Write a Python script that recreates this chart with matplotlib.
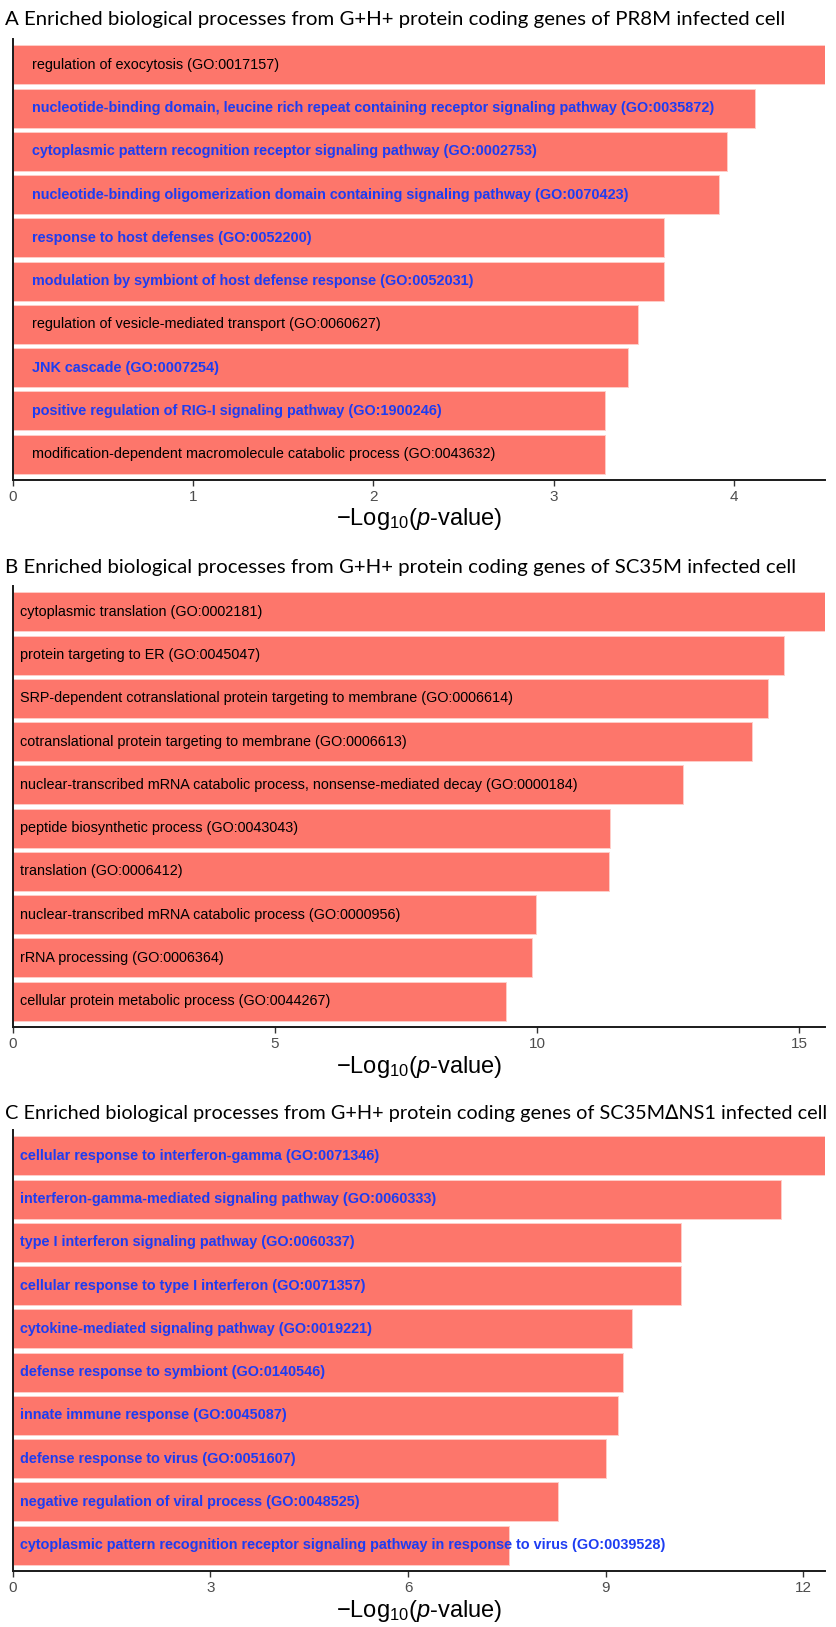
import matplotlib
matplotlib.use("Agg")
import matplotlib.pyplot as plt
from matplotlib import font_manager

# -----------------------------------------------------------------------------
# Data: GO terms (top to bottom) and their -log10(p-value)
# -----------------------------------------------------------------------------

TITLE_A = "A Enriched biological processes from G+H+ protein coding genes of PR8M infected cell"
TERMS_A = [
    "regulation of exocytosis (GO:0017157)",
    "nucleotide-binding domain, leucine rich repeat containing receptor signaling pathway (GO:0035872)",
    "cytoplasmic pattern recognition receptor signaling pathway (GO:0002753)",
    "nucleotide-binding oligomerization domain containing signaling pathway (GO:0070423)",
    "response to host defenses (GO:0052200)",
    "modulation by symbiont of host defense response (GO:0052031)",
    "regulation of vesicle-mediated transport (GO:0060627)",
    "JNK cascade (GO:0007254)",
    "positive regulation of RIG-I signaling pathway (GO:1900246)",
    "modification-dependent macromolecule catabolic process (GO:0043632)",
]
VALUES_A = [4.505, 4.118, 3.963, 3.915, 3.610, 3.610, 3.467, 3.415, 3.285, 3.285]
IMMUNE_A = [False, True, True, True, True, True, False, True, True, False]
TICKS_A = [0, 1, 2, 3, 4]

TITLE_B = "B Enriched biological processes from G+H+ protein coding genes of SC35M infected cell"
TERMS_B = [
    "cytoplasmic translation (GO:0002181)",
    "protein targeting to ER (GO:0045047)",
    "SRP-dependent cotranslational protein targeting to membrane (GO:0006614)",
    "cotranslational protein targeting to membrane (GO:0006613)",
    "nuclear-transcribed mRNA catabolic process, nonsense-mediated decay (GO:0000184)",
    "peptide biosynthetic process (GO:0043043)",
    "translation (GO:0006412)",
    "nuclear-transcribed mRNA catabolic process (GO:0000956)",
    "rRNA processing (GO:0006364)",
    "cellular protein metabolic process (GO:0044267)",
]
VALUES_B = [15.49, 14.70, 14.40, 14.09, 12.79, 11.39, 11.37, 9.97, 9.90, 9.41]
IMMUNE_B = [False] * 10
TICKS_B = [0, 5, 10, 15]

TITLE_C = "C Enriched biological processes from G+H+ protein coding genes of SC35M\u2206NS1 infected cell"
TERMS_C = [
    "cellular response to interferon-gamma (GO:0071346)",
    "interferon-gamma-mediated signaling pathway (GO:0060333)",
    "type I interferon signaling pathway (GO:0060337)",
    "cellular response to type I interferon (GO:0071357)",
    "cytokine-mediated signaling pathway (GO:0019221)",
    "defense response to symbiont (GO:0140546)",
    "innate immune response (GO:0045087)",
    "defense response to virus (GO:0051607)",
    "negative regulation of viral process (GO:0048525)",
    "cytoplasmic pattern recognition receptor signaling pathway in response to virus (GO:0039528)",
]
VALUES_C = [12.33, 11.66, 10.15, 10.15, 9.40, 9.27, 9.19, 9.00, 8.28, 7.53]
IMMUNE_C = [True] * 10
TICKS_C = [0, 3, 6, 9, 12]

# -----------------------------------------------------------------------------
# Style
# -----------------------------------------------------------------------------

BAR_COLOR = "#FD766B"
BAR_EDGE = "#FFCDC8"
IMMUNE_COLOR = "#1D3DF2"
TICK_COLOR = "#4D4D4D"


def _has_font(name):
    try:
        font_manager.findfont(name, fallback_to_default=False)
        return True
    except ValueError:
        return False


NARROW = "Liberation Sans Narrow" if _has_font("Liberation Sans Narrow") else "Liberation Sans"
# Lato has no increment sign, so let another family fill in for it
TITLE_FONT = ["Lato", "Noto Sans", "DejaVu Sans"]
LABEL_FONT = "Liberation Sans"
TITLE_SIZE = 14.7

plt.rcParams["mathtext.fontset"] = "custom"
plt.rcParams["mathtext.rm"] = NARROW
plt.rcParams["mathtext.it"] = f"{NARROW}:italic"

W, H = 836, 1627
fig = plt.figure(figsize=(W / 100, H / 100), dpi=100)
renderer = fig.canvas.get_renderer()

# panel boxes in pixels: (top, bottom) of the plotting area, label inset, title row
AX_LEFT, AX_RIGHT = 12.8, 825.0
PANELS = [
    (TITLE_A, TERMS_A, VALUES_A, IMMUNE_A, TICKS_A, 39, 480, 19, 19),
    (TITLE_B, TERMS_B, VALUES_B, IMMUNE_B, TICKS_B, 586, 1027, 7, 568),
    (TITLE_C, TERMS_C, VALUES_C, IMMUNE_C, TICKS_C, 1130, 1571, 7, 1113),
]

for title, terms, values, immune, ticks, top, bottom, inset, title_y in PANELS:
    ax = fig.add_axes([AX_LEFT / W, 1 - bottom / H, (AX_RIGHT - AX_LEFT) / W, (bottom - top) / H])
    n = len(terms)
    pos = list(range(n, 0, -1))
    ax.barh(pos, values, height=0.9, color=BAR_COLOR, edgecolor=BAR_EDGE, linewidth=0.7)
    ax.set_xlim(0, max(values))
    ax.set_ylim(0.4, n + 0.6)

    for y, term, imm in zip(pos, terms, immune):
        ax.annotate(term, (0, y), xytext=(inset, 0), textcoords="offset pixels",
                    ha="left", va="center", fontsize=10.4, family=LABEL_FONT,
                    color=IMMUNE_COLOR if imm else "black",
                    fontweight="bold" if imm else "normal")

    ax.set_xticks(ticks)
    ax.set_xticklabels([str(t) for t in ticks], family=NARROW, fontsize=11, color=TICK_COLOR)
    ax.set_yticks([])
    ax.tick_params(axis="x", direction="out", length=4, width=1.0, color="#333333", pad=3)
    for side in ("top", "right"):
        ax.spines[side].set_visible(False)
    for side in ("left", "bottom"):
        ax.spines[side].set_linewidth(1.4)
        ax.spines[side].set_color("#1a1a1a")

    ax.set_xlabel(r"$-$Log$_{10}$($p$-value)", family=NARROW, fontsize=17, labelpad=2)

    # shrink the title only if it would run past the right edge
    t = fig.text(5 / W, 1 - title_y / H, title, family=TITLE_FONT, fontsize=TITLE_SIZE,
                 ha="left", va="center", color="black")
    size = TITLE_SIZE
    while t.get_window_extent(renderer).x1 > W - 3 and size > 10:
        size -= 0.1
        t.set_fontsize(size)

fig.savefig("out.png", dpi=100)
